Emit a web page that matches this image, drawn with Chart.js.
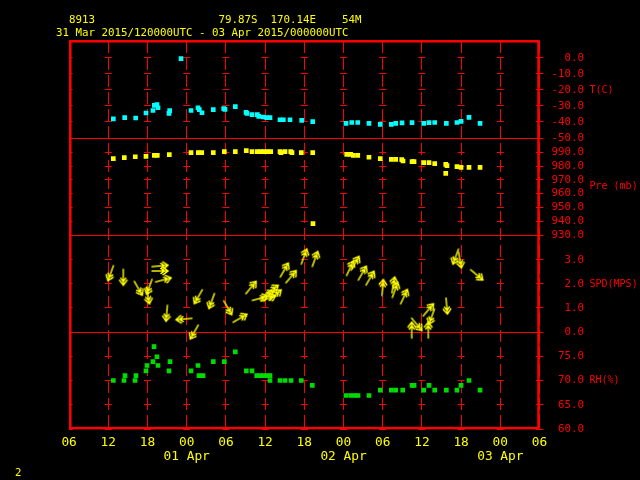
<!DOCTYPE html>
<html><head><meta charset="utf-8">
<script src="https://cdn.jsdelivr.net/npm/chart.js@4.4.0/dist/chart.umd.min.js"></script>
<style>html,body{margin:0;padding:0;background:#000;}canvas{display:block;}</style>
</head><body>
<canvas id="c" width="640" height="480"></canvas>
<script>
// Time axis: hours since 31 Mar 2015 06 UTC
const X_TICK_HOURS = [0,6,12,18,24,30,36,42,48,54,60,66,72];
const X_TICK_LABELS = ['06','12','18',['00','01 Apr'],'06','12','18',['00','02 Apr'],'06','12','18',['00','03 Apr'],'06'];

const T_TICKS = [0,-10,-20,-30,-40,-50];
const P_TICKS = [990,980,970,960,950,940,930];
const S_TICKS = [3,2,1,0];
const R_TICKS = [75,70,65,60];

const AXIS_TITLES = ['T(C)','Pre (mb)','SPD(MPS)','RH(%)'];
const AXIS_TITLE_AT = [-20, 965, 2, 70];

const TITLE_LINE1 = '  8913                   79.87S  170.14E    54M';
const TITLE_LINE2 = '31 Mar 2015/120000UTC - 03 Apr 2015/000000UTC';
const PAGE_LABEL = '2';

// Temperature (C)
const T_HOURS = [6.77,8.51,10.19,11.77,12.84,13.04,13.45,13.61,15.4,15.29,17.13,18.66,19.73,19.93,20.34,22.07,23.66,23.86,25.44,27.08,27.23,28.0,28.81,29.02,29.73,30.25,30.75,32.28,32.79,33.81,35.6,37.29,42.38,43.26,44.18,45.9,47.63,49.32,49.99,50.96,52.49,54.28,55.09,55.96,57.74,59.37,59.99,61.21,62.9];
const T_VALUES = [-38.1,-37.3,-37.5,-34.4,-32.8,-29.6,-29.2,-31.1,-32.9,-34.6,-0.4,-32.8,-31.1,-32.3,-34.2,-32.3,-31.7,-32.1,-30.4,-34.0,-34.6,-35.4,-35.4,-36.5,-36.9,-37.3,-37.3,-38.6,-38.6,-38.6,-39.0,-39.8,-40.9,-40.3,-40.3,-40.9,-41.5,-41.5,-40.9,-40.6,-40.4,-40.9,-40.4,-40.3,-40.9,-40.3,-39.6,-37.1,-40.9];

// Pressure (mb)
const P_HOURS = [6.77,8.45,10.13,11.77,13.04,13.5,15.34,18.66,19.78,20.3,22.07,23.76,25.44,27.12,28.0,28.81,29.33,29.83,30.34,30.86,32.28,32.43,33.05,33.92,34.12,35.54,37.29,37.33,42.49,43.1,43.5,44.18,45.9,47.63,49.32,49.99,50.91,51.11,52.49,52.8,54.28,55.09,55.96,57.65,57.84,57.65,59.37,59.99,61.21,62.9];
const P_VALUES = [985.4,986.1,986.8,987.1,987.8,987.8,988.3,989.8,989.8,989.8,989.8,990.5,990.5,991.2,990.5,990.5,990.5,990.5,990.5,990.5,990.5,989.8,990.5,990.5,989.8,989.8,989.8,938.2,988.5,988.5,987.8,987.8,986.4,985.4,984.9,984.9,984.7,983.7,983.2,983.2,982.5,982.5,981.8,981.3,980.3,974.7,979.6,979.1,979.1,979.1];

// Wind speed (m/s) and arrow direction (deg, clockwise from up)
const W_HOURS = [6.37,8.30,10.59,12.28,12.08,13.91,13.91,14.42,14.94,17.59,19.16,19.78,21.83,24.28,26.16,27.84,29.22,30.25,31.01,30.49,31.52,32.94,33.97,35.96,37.64,42.99,43.76,44.88,46.06,48.0,49.63,49.89,51.26,54.98,55.5,53.21,52.44,54.98,57.8,59.18,59.83,62.39];
const W_SPEED = [2.45,2.28,1.82,1.88,1.5,2.75,2.54,2.17,0.78,0.54,0.0,1.47,1.29,1.01,0.57,1.85,1.4,1.54,1.75,1.4,1.54,2.58,2.3,3.14,3.04,2.65,2.86,2.45,2.24,1.85,1.96,1.75,1.47,0.92,0.64,0.32,0.08,0.08,1.08,3.14,3.0,2.38];
const W_DIR = [200,180,150,200,170,85,90,75,185,265,210,210,200,150,60,40,75,60,55,70,50,30,40,20,20,25,30,30,30,5,10,20,25,40,200,140,0,0,175,200,170,130];

// Relative humidity (%)
const R_HOURS = [6.77,8.4,8.56,10.09,10.24,11.77,11.92,12.84,13.0,13.45,13.61,15.29,15.45,18.66,19.73,19.88,20.5,22.07,23.76,25.44,27.12,28.0,28.72,29.22,29.73,30.25,30.75,30.75,32.28,33.05,33.97,35.54,37.23,42.38,43.1,43.76,44.22,45.9,47.63,49.32,49.99,51.06,52.49,52.8,54.28,55.09,55.96,57.74,59.37,59.99,61.21,62.9];
const R_VALUES = [70,70,71,70,71,72,73.1,73.9,77,74.9,73.1,72,73.9,72,73.1,71,71,73.9,73.9,75.9,72,72,71,71,71,71,71,70,70,70,70,70,69,66.9,66.9,66.9,66.9,66.9,68,68,68,68,69,69,68,69,68,68,68,69,70,68];

const RED = '#ff0000', YELLOW = '#ffff00', CYAN = '#00ffff', GREEN = '#00dc00';
const MONO = "'DejaVu Sans Mono', 'Liberation Mono', monospace";

const pts = (xs, ys) => xs.map((x, i) => ({x, y: ys[i]}));

// arrow glyph (points up, rotated per point)
const arrow = document.createElement('canvas');
arrow.width = 22; arrow.height = 22;
(function () {
  const g = arrow.getContext('2d');
  g.strokeStyle = YELLOW; g.lineWidth = 1.4; g.lineCap = 'round';
  g.beginPath();
  g.moveTo(11, 19); g.lineTo(11, 3);
  g.moveTo(7.2, 8); g.lineTo(11, 3); g.lineTo(14.8, 8);
  g.moveTo(8.5, 10); g.lineTo(11, 6.5); g.lineTo(13.5, 10);
  g.stroke();
})();

function yScale(min, max, ticks) {
  return {
    type: 'linear', position: 'right', stack: 'panels', stackWeight: 1,
    min, max,
    afterBuildTicks: s => { s.ticks = ticks.map(v => ({value: v})); },
    afterFit: s => { s.width = 100.5; },
    grid: { color: RED, lineWidth: 1, drawTicks: true, tickLength: 4, tickColor: RED, tickWidth: 1 },
    border: { display: false, dash: [7, 32.2], dashOffset: 3.5 },
    ticks: { color: RED, padding: 8, autoSkip: false, font: {family: MONO, size: 10.8},
             callback: v => Number(v).toFixed(1).padStart(5) }
  };
}

const Y_IDS = ['yT','yP','yS','yR'];

const framePlugin = {
  id: 'frame',
  beforeDraw(chart) {
    const c = chart.ctx; c.save(); c.fillStyle = '#000'; c.fillRect(0, 0, chart.width, chart.height); c.restore();
  },
  beforeDatasetsDraw(chart) {
    const c = chart.ctx, a = chart.chartArea;
    c.save();
    c.strokeStyle = RED; c.lineWidth = 1;
    Y_IDS.slice(0, 3).forEach(id => {
      const y = Math.round(chart.scales[id].bottom) + 0.5;
      c.beginPath(); c.moveTo(a.left, y); c.lineTo(a.right, y); c.stroke();
    });
    c.lineWidth = 2.5;
    c.strokeRect(a.left + 1.2, a.top + 0.3, a.width - 2.2, a.height - 1.2);
    c.restore();
  },
  afterDraw(chart) {
    const c = chart.ctx, a = chart.chartArea;
    c.save();
    c.fillStyle = YELLOW; c.textBaseline = 'alphabetic'; c.textAlign = 'left';
    c.font = "10.8px " + MONO;
    c.fillText(TITLE_LINE1, 56, 23);
    c.fillText(TITLE_LINE2, 56, 36);
    c.fillText(PAGE_LABEL, 15, 476);
    c.fillStyle = RED; c.textBaseline = 'middle';
    c.font = "10px " + MONO;
    Y_IDS.forEach((id, i) => {
      const y = chart.scales[id].getPixelForValue(AXIS_TITLE_AT[i]);
      c.fillText(AXIS_TITLES[i], a.right + 50, y);
    });
    c.restore();
  }
};

new Chart(document.getElementById('c'), {
  type: 'scatter',
  data: {
    datasets: [
      { label: 'T', data: pts(T_HOURS, T_VALUES), yAxisID: 'yT', showLine: false,
        pointStyle: 'rect', pointRadius: 3.3, pointBorderWidth: 0, pointBackgroundColor: CYAN },
      { label: 'Pre', data: pts(P_HOURS, P_VALUES), yAxisID: 'yP', showLine: false,
        pointStyle: 'rect', pointRadius: 3.3, pointBorderWidth: 0, pointBackgroundColor: YELLOW },
      { label: 'SPD', data: pts(W_HOURS, W_SPEED), yAxisID: 'yS', showLine: false, clip: false,
        pointStyle: arrow, pointRadius: 8, pointBorderWidth: 0,
        pointRotation: ctx => W_DIR[ctx.dataIndex] },
      { label: 'RH', data: pts(R_HOURS, R_VALUES), yAxisID: 'yR', showLine: false,
        pointStyle: 'rect', pointRadius: 3.3, pointBorderWidth: 0, pointBackgroundColor: GREEN }
    ]
  },
  options: {
    responsive: false, animation: false, devicePixelRatio: 1,
    layout: { padding: { left: 69.1, top: 41, right: 0, bottom: 0 } },
    plugins: { legend: { display: false }, tooltip: { enabled: false }, title: { display: false } },
    events: [],
    scales: {
      x: {
        type: 'linear', position: 'bottom', min: 0, max: 72,
        afterBuildTicks: s => { s.ticks = X_TICK_HOURS.map(v => ({value: v})); },
        afterFit: s => { s.height = 51; },
        grid: { color: RED, lineWidth: 1, drawTicks: false },
        border: { display: false, dash: [12, 5], dashOffset: 0 },
        ticks: { color: YELLOW, padding: 7, autoSkip: false, maxRotation: 0,
                 font: {family: MONO, size: 12.8, lineHeight: 1.07},
                 callback: (v, i) => X_TICK_LABELS[i] }
      },
      yT: yScale(-50, 10.6, T_TICKS),
      yP: yScale(930, 1000.4, P_TICKS),
      yS: yScale(0, 4.04, S_TICKS),
      yR: yScale(60, 80, R_TICKS)
    }
  },
  plugins: [framePlugin]
});
</script>
</body></html>
